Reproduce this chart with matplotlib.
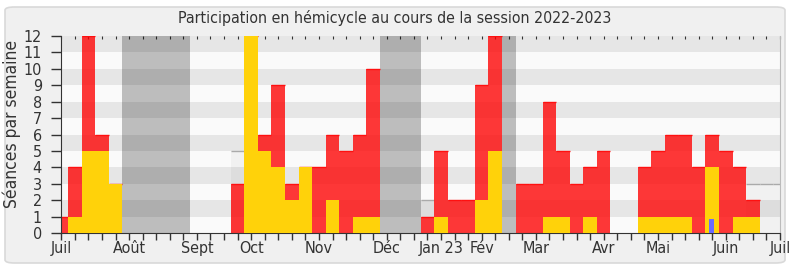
import matplotlib.pyplot as plt
from matplotlib.patches import FancyBboxPatch

# weekly data, session 2022-2023 (week index 0 = first week of July)
weeks = list(range(54))
presence = [1, 4, 12, 6, 3, 0, 0, 0, 0, 0,
            0, 0, 0, 3, 12, 6, 9, 3, 4, 4,
            6, 5, 6, 10, 0, 0, 0, 1, 5, 2,
            2, 9, 12, 0, 3, 3, 8, 5, 3, 4,
            5, 0, 0, 4, 5, 6, 6, 4, 6, 5,
            4, 2, 0, 0]
interventions = [0, 1, 5, 5, 3, 0, 0, 0, 0, 0,
                 0, 0, 0, 0, 12, 5, 4, 2, 4, 0,
                 2, 0, 1, 1, 0, 0, 0, 0, 1, 0,
                 0, 2, 5, 0, 0, 0, 1, 1, 0, 1,
                 0, 0, 0, 1, 1, 1, 1, 0, 4, 0,
                 1, 1, 0, 0]
vacances = [5, 6, 7, 8, 9, 24, 25, 26, 33]
mediane_weeks = [13, 27, 51, 52, 53]
mediane = [5, 2, 3, 3, 3]
questions_weeks = [48]
questions = [0.85]

month_labels = ["Juil", "Août", "Sept", "Oct", "Nov", "Déc", "Jan 23",
                "Fév", "Mar", "Avr", "Mai", "Juin", "Juil"]
month_weeks = [0, 5, 10, 14, 19, 24, 28, 31, 35, 40, 44, 49, 53]

plt.rcParams['font.family'] = ['DejaVu Sans']
plt.rcParams['font.stretch'] = 'condensed'

fig = plt.figure(figsize=(7.9, 2.67), dpi=100)
fig.patch.set_facecolor('white')
fig.patches.append(FancyBboxPatch((5 / 790, 4 / 267), 780 / 790, 256 / 267,
                                  boxstyle="round,pad=0,rounding_size=0.012",
                                  transform=fig.transFigure, facecolor='#f0f0f0',
                                  edgecolor='#d9d9d9', lw=1.2, zorder=-10))

ax = fig.add_axes([61.3 / 790, 1 - 233 / 267, (780 - 61.3) / 790, (233 - 36) / 267])
ax.set_facecolor('#fafafa')

# horizontal stripes
for y in range(1, 12, 2):
    ax.axhspan(y, y + 1, color='#e6e6e6', lw=0, zorder=0)

# vacations
ax.bar(vacances, [12] * len(vacances), width=1, color='black', alpha=0.245, lw=0, zorder=1)

# median
ax.bar(mediane_weeks, mediane, width=1, color='black', alpha=0.035, lw=0, zorder=1)
ax.hlines(mediane, [w - 0.5 for w in mediane_weeks], [w + 0.5 for w in mediane_weeks],
          color='#aaaaaa', lw=1, zorder=1.5)

# presence
ax.bar(weeks, presence, width=1, color='#ff0000', alpha=0.78, lw=0, zorder=2)
pw = [w for w, p in zip(weeks, presence) if p > 0]
pv = [p for p in presence if p > 0]
ax.hlines(pv, [w - 0.5 for w in pw], [w + 0.5 for w in pw], color='#ff1010', lw=1, zorder=2.5)

# interventions
ax.bar(weeks, interventions, width=1, color='#ffd20a', lw=0, zorder=3)

# questions
ax.bar([w - 0.05 for w in questions_weeks], questions, width=0.3, color='#6b6bff', lw=0, zorder=4)

ax.set_xlim(0, 53)
ax.set_ylim(0, 12)
ax.set_yticks(range(13))
ax.set_xticks(weeks)
xl = [''] * len(weeks)
for w, m in zip(month_weeks, month_labels):
    xl[w] = m
ax.set_xticklabels(xl)
ax.tick_params(axis='x', length=5, width=1, color='#333333', labelsize=11.5,
               labelcolor='#333333', pad=1)
ax.tick_params(axis='y', length=7, width=1, color='#333333', labelsize=11.5,
               labelcolor='#333333', pad=7)

top = ax.secondary_xaxis('top')
top.set_xticks(weeks)
top.set_xticklabels([])
top.tick_params(length=2, direction='in', color='#333333')
top.spines['top'].set_visible(False)

for s in ['left', 'bottom']:
    ax.spines[s].set_color('#333333')
ax.spines['top'].set_visible(False)
ax.spines['right'].set_color('#bbbbbb')

fig.text(12 / 790, 1 - 124 / 267, "Séances par semaine", rotation=90,
         ha='center', va='center', fontsize=12.5, color='#333333')
fig.text(0.5, 1 - 18 / 267, "Participation en hémicycle au cours de la session 2022-2023",
         ha='center', va='center', fontsize=11.4, color='#333333')

fig.savefig("out.png", dpi=100, facecolor=fig.get_facecolor())
